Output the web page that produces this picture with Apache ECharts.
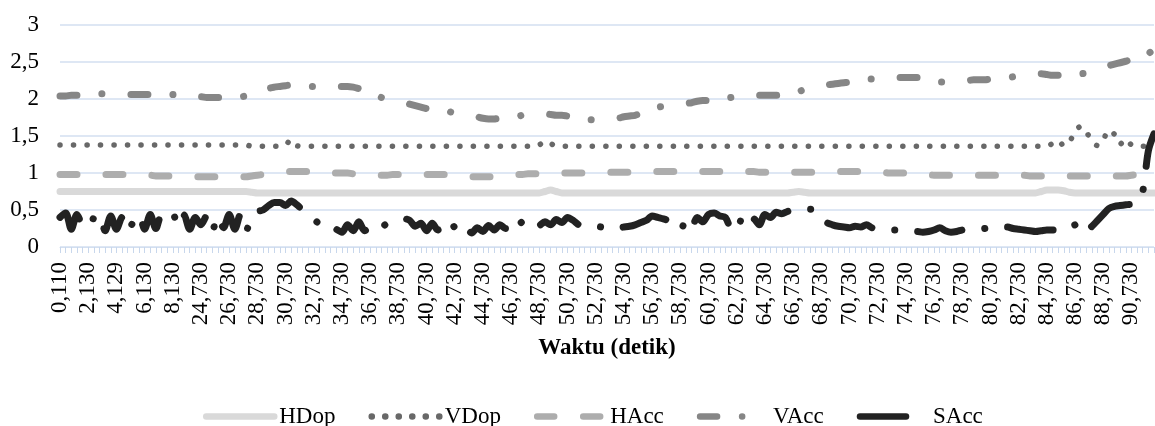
<!DOCTYPE html>
<html>
<head>
<meta charset="utf-8">
<script src="https://cdn.jsdelivr.net/npm/echarts@6/dist/echarts.min.js"></script>
<style>
html,body{margin:0;padding:0;background:#ffffff;}
#chart{width:1155px;height:426px;}
</style>
</head>
<body>
<div id="chart"></div>
<script>
// Tick labels shown on the time axis (seconds, comma decimal)
const tickLabels = [
  "0,110","2,130","4,129","6,130","8,130",
  "24,730","26,730","28,730","30,730","32,730","34,730","36,730","38,730",
  "40,730","42,730","44,730","46,730","48,730","50,730","52,730","54,730",
  "56,730","58,730","60,730","62,730","64,730","66,730","68,730","70,730",
  "72,730","74,730","76,730","78,730","80,730","82,730","84,730","86,730",
  "88,730","90,730"
];
// samples between two labelled ticks
const SUB = 5;

const hdop = [
  0.75,0.75,0.75,0.75,0.75,0.75,0.75,0.75,0.75,0.75,
  0.75,0.75,0.75,0.75,0.75,0.75,0.75,0.75,0.75,0.75,
  0.75,0.75,0.75,0.75,0.75,0.75,0.75,0.75,0.75,0.75,
  0.75,0.75,0.75,0.75,0.74,0.73,0.73,0.73,0.73,0.73,
  0.73,0.73,0.73,0.73,0.73,0.73,0.73,0.73,0.73,0.73,
  0.73,0.73,0.73,0.73,0.73,0.73,0.73,0.73,0.73,0.73,
  0.73,0.73,0.73,0.73,0.73,0.73,0.73,0.73,0.73,0.73,
  0.73,0.73,0.73,0.73,0.73,0.73,0.73,0.73,0.73,0.73,
  0.73,0.73,0.73,0.73,0.73,0.73,0.75,0.77,0.75,0.73,
  0.73,0.73,0.73,0.73,0.73,0.73,0.73,0.73,0.73,0.73,
  0.73,0.73,0.73,0.73,0.73,0.73,0.73,0.73,0.73,0.73,
  0.73,0.73,0.73,0.73,0.73,0.73,0.73,0.73,0.73,0.73,
  0.73,0.73,0.73,0.73,0.73,0.73,0.73,0.73,0.73,0.73,
  0.74,0.75,0.74,0.73,0.73,0.73,0.73,0.73,0.73,0.73,
  0.73,0.73,0.73,0.73,0.73,0.73,0.73,0.73,0.73,0.73,
  0.73,0.73,0.73,0.73,0.73,0.73,0.73,0.73,0.73,0.73,
  0.73,0.73,0.73,0.73,0.73,0.73,0.73,0.73,0.73,0.73,
  0.73,0.73,0.73,0.73,0.75,0.77,0.77,0.77,0.76,0.74,
  0.73,0.73,0.73,0.73,0.73,0.73,0.73,0.73,0.73,0.73,
  0.73,0.73,0.73,0.73,0.73
];

const vdop = [
  1.38,1.38,1.38,1.38,1.38,1.38,1.38,1.38,1.38,1.38,
  1.38,1.38,1.38,1.38,1.38,1.38,1.38,1.38,1.38,1.38,
  1.38,1.38,1.38,1.38,1.38,1.38,1.38,1.38,1.38,1.38,
  1.38,1.38,1.38,1.38,1.36,1.36,1.36,1.36,1.36,1.36,
  1.38,1.45,1.37,1.36,1.36,1.36,1.36,1.36,1.36,1.36,
  1.36,1.36,1.36,1.36,1.36,1.36,1.36,1.36,1.36,1.36,
  1.36,1.36,1.36,1.36,1.36,1.36,1.36,1.36,1.36,1.36,
  1.36,1.36,1.36,1.36,1.36,1.36,1.36,1.36,1.36,1.36,
  1.36,1.36,1.36,1.36,1.36,1.38,1.43,1.40,1.36,1.36,
  1.36,1.36,1.36,1.36,1.36,1.36,1.36,1.36,1.36,1.36,
  1.36,1.36,1.36,1.36,1.36,1.36,1.36,1.36,1.36,1.36,
  1.36,1.36,1.36,1.36,1.36,1.36,1.36,1.36,1.36,1.36,
  1.36,1.36,1.36,1.36,1.36,1.36,1.36,1.36,1.36,1.36,
  1.36,1.36,1.36,1.36,1.36,1.36,1.36,1.36,1.36,1.36,
  1.36,1.36,1.36,1.36,1.36,1.36,1.36,1.36,1.36,1.36,
  1.36,1.36,1.36,1.36,1.36,1.36,1.36,1.36,1.36,1.36,
  1.36,1.36,1.36,1.36,1.36,1.36,1.36,1.36,1.36,1.36,
  1.36,1.36,1.36,1.36,1.36,1.36,1.40,1.44,1.37,1.42,
  1.56,1.63,1.55,1.44,1.37,1.45,1.58,1.52,1.39,1.46,
  1.38,1.36,1.36,1.36,1.36
];

const hacc = [
  0.98,0.98,0.98,0.98,0.98,0.98,0.98,0.98,0.98,0.98,
  0.98,0.98,0.98,0.97,0.97,0.97,0.97,0.96,0.96,0.96,
  0.96,0.96,0.95,0.95,0.95,0.95,0.95,0.95,0.95,0.95,
  0.95,0.95,0.95,0.95,0.96,0.97,0.98,0.99,1.00,1.01,
  1.02,1.02,1.02,1.02,1.02,1.02,1.01,1.01,1.00,1.00,
  1.00,1.00,0.99,0.99,0.98,0.98,0.97,0.97,0.97,0.98,
  0.98,0.98,0.98,0.98,0.98,0.98,0.98,0.98,0.98,0.98,
  0.97,0.96,0.96,0.95,0.95,0.95,0.95,0.95,0.95,0.96,
  0.97,0.98,0.98,0.99,0.99,0.99,0.99,1.00,1.00,1.00,
  1.00,1.00,1.00,1.00,1.00,1.00,1.01,1.01,1.01,1.01,
  1.01,1.01,1.01,1.01,1.02,1.02,1.02,1.02,1.02,1.02,
  1.02,1.02,1.02,1.02,1.02,1.02,1.02,1.02,1.02,1.02,
  1.02,1.02,1.02,1.02,1.01,1.01,1.01,1.01,1.01,1.01,
  1.01,1.01,1.01,1.01,1.01,1.01,1.01,1.02,1.02,1.02,
  1.02,1.02,1.02,1.02,1.02,1.02,1.01,1.00,1.00,1.00,
  1.00,1.00,1.00,0.99,0.98,0.97,0.97,0.97,0.97,0.97,
  0.97,0.97,0.97,0.97,0.97,0.97,0.97,0.97,0.97,0.97,
  0.97,0.97,0.96,0.96,0.96,0.96,0.96,0.96,0.96,0.96,
  0.96,0.96,0.96,0.96,0.96,0.96,0.96,0.96,0.96,0.96,
  0.97,0.98,0.99,1.00,1.00
];

const vacc = [
  2.04,2.04,2.05,2.05,2.05,2.06,2.06,2.07,2.07,2.07,
  2.07,2.06,2.06,2.06,2.06,2.06,2.06,2.06,2.06,2.06,
  2.06,2.07,2.05,2.04,2.03,2.03,2.02,2.02,2.02,2.02,
  2.02,2.03,2.03,2.04,2.04,2.05,2.09,2.14,2.16,2.17,
  2.18,2.19,2.19,2.18,2.17,2.17,2.16,2.16,2.17,2.17,
  2.17,2.17,2.16,2.14,2.12,2.10,2.06,2.02,2.00,1.99,
  1.97,1.95,1.93,1.91,1.89,1.87,1.86,1.86,1.85,1.83,
  1.81,1.80,1.79,1.78,1.76,1.74,1.73,1.73,1.74,1.74,
  1.75,1.76,1.78,1.79,1.80,1.80,1.80,1.79,1.78,1.78,
  1.77,1.76,1.74,1.73,1.72,1.72,1.72,1.73,1.73,1.74,
  1.76,1.77,1.78,1.81,1.84,1.87,1.89,1.90,1.91,1.92,
  1.93,1.94,1.95,1.97,1.98,1.98,2.00,2.00,2.01,2.02,
  2.03,2.03,2.04,2.04,2.05,2.05,2.05,2.05,2.06,2.08,
  2.09,2.10,2.13,2.15,2.16,2.18,2.19,2.20,2.21,2.22,
  2.23,2.25,2.26,2.27,2.27,2.28,2.28,2.29,2.29,2.29,
  2.29,2.29,2.29,2.28,2.26,2.25,2.23,2.23,2.24,2.25,
  2.25,2.25,2.26,2.26,2.26,2.27,2.28,2.29,2.29,2.30,
  2.31,2.32,2.33,2.33,2.34,2.33,2.32,2.32,2.31,2.32,
  2.33,2.34,2.35,2.38,2.41,2.43,2.45,2.47,2.49,2.51,
  2.53,2.54,2.56,2.61,2.68
];

const sacc = [
  0.40,0.46,0.24,0.44,0.30,0.42,0.38,0.44,0.22,0.42,
  0.24,0.40,0.22,0.34,0.44,0.24,0.44,0.25,0.43,0.38,
  0.44,0.28,0.43,0.24,0.40,0.30,0.42,0.22,0.42,0.26,
  0.44,0.24,0.44,0.22,0.42,0.48,0.50,0.56,0.60,0.60,
  0.56,0.62,0.57,0.50,0.43,0.38,0.32,0.34,0.30,0.24,
  0.20,0.30,0.22,0.34,0.22,0.26,0.21,0.26,0.32,0.35,
  0.37,0.38,0.36,0.28,0.32,0.22,0.32,0.23,0.30,0.21,
  0.28,0.20,0.26,0.19,0.26,0.21,0.29,0.23,0.30,0.25,
  0.34,0.27,0.34,0.26,0.26,0.29,0.34,0.30,0.37,0.33,
  0.40,0.36,0.30,0.28,0.27,0.28,0.27,0.26,0.24,0.26,
  0.27,0.28,0.30,0.33,0.36,0.42,0.40,0.38,0.35,0.28,
  0.23,0.36,0.26,0.40,0.34,0.44,0.46,0.42,0.40,0.24,
  0.22,0.40,0.30,0.38,0.30,0.44,0.40,0.47,0.45,0.48,
  0.50,0.50,0.50,0.51,0.50,0.40,0.33,0.30,0.28,0.27,
  0.26,0.28,0.27,0.30,0.26,0.25,0.25,0.24,0.23,0.23,
  0.22,0.21,0.21,0.20,0.21,0.23,0.26,0.22,0.20,0.21,
  0.23,0.24,0.24,0.24,0.25,0.26,0.27,0.26,0.27,0.25,
  0.24,0.23,0.22,0.21,0.22,0.23,0.23,0.22,0.23,0.25,
  0.30,0.33,0.22,0.28,0.36,0.44,0.52,0.55,0.56,0.57,
  0.58,0.60,0.75,1.30,1.53
];

const seriesNames = ["HDop","VDop","HAcc","VAcc","SAcc"];

// category list: each labelled tick followed by unlabelled sample slots
const categories = [];
tickLabels.forEach(function (lab) {
  for (let s = 0; s < SUB; s++) {
    categories.push(s === 0 ? lab : lab + "\u200b".repeat(s));
  }
});

const FONT = "Liberation Serif";
const chart = echarts.init(document.getElementById("chart"), null, {renderer: "canvas"});

function line(name, data, color, width, type) {
  return {
    name: name, type: "line", data: data,
    symbol: "none", showSymbol: false, smooth: 0.3,
    animation: false,
    itemStyle: {color: color},
    lineStyle: {color: color, width: width, type: type, cap: "round", join: "round"},
    emphasis: {disabled: true}
  };
}

chart.setOption({
  animation: false,
  backgroundColor: "#ffffff",
  grid: {left: 60, right: 1, top: 25, bottom: 179, containLabel: false, outerBoundsMode: "none"},
  xAxis: {
    type: "category",
    data: categories,
    boundaryGap: false,
    axisLine: {show: true, lineStyle: {color: "#d3dff0", width: 1}},
    axisTick: {show: true, interval: 0, length: 6, lineStyle: {color: "#c8d7ec", width: 1}},
    axisLabel: {
      interval: SUB - 1, rotate: 90, margin: 15,
      fontFamily: FONT, fontSize: 23, color: "#000000"
    },
    splitLine: {show: false},
    name: "Waktu (detik)",
    nameLocation: "middle",
    nameGap: 90,
    nameTextStyle: {fontFamily: FONT, fontSize: 23, fontWeight: "bold", color: "#000000"}
  },
  yAxis: {
    type: "value",
    min: 0, max: 3, interval: 0.5,
    axisLine: {show: false},
    axisTick: {show: false},
    axisLabel: {
      margin: 21, fontFamily: FONT, fontSize: 23, color: "#000000",
      formatter: function (v) { return String(v).replace(".", ","); }
    },
    splitLine: {show: true, lineStyle: {color: "#d3dff0", width: 1.5}}
  },
  legend: {
    show: true,
    data: seriesNames,
    left: 198, top: 400,
    orient: "horizontal",
    itemWidth: 68, itemHeight: 14, itemGap: 33,
    selectedMode: false,
    itemStyle: {opacity: 0},
    lineStyle: {width: 6.5, cap: "round"},
    textStyle: {fontFamily: FONT, fontSize: 23, color: "#000000"}
  },
  series: [
    line("HDop", hdop, "#d9d9d9", 7, "solid"),
    line("VDop", vdop, "#686868", 5.5, [0.1, 13.4]),
    line("HAcc", hacc, "#adadad", 7, [17, 29]),
    line("VAcc", vacc, "#868686", 7, [17, 25, 0.1, 29]),
    line("SAcc", sacc, "#222222", 7, [46, 23, 0.1, 23])
  ]
});
</script>
</body>
</html>
